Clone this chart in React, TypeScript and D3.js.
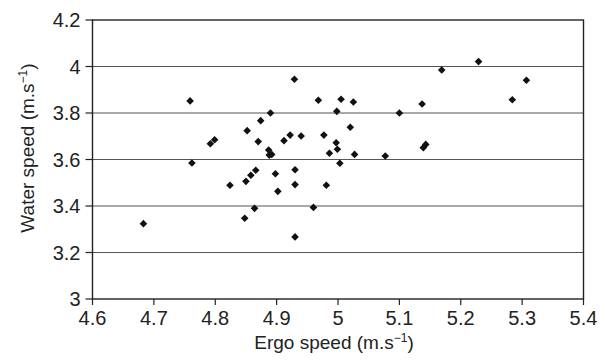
import React from "react";
import * as d3 from "d3";

const ergoSpeed = [
  4.683, 4.759, 4.762, 4.792, 4.799, 4.824, 4.848, 4.850, 4.852, 4.858,
  4.864, 4.866, 4.870, 4.874, 4.887, 4.888, 4.892, 4.890, 4.898, 4.902,
  4.912, 4.922, 4.929, 4.930, 4.930, 4.930, 4.940, 4.960, 4.968, 4.977,
  4.981, 4.986, 4.997, 4.999, 4.998, 5.003, 5.005, 5.020, 5.025, 5.027,
  5.077, 5.100, 5.137, 5.139, 5.143, 5.169, 5.229, 5.284, 5.307,
];
const waterSpeed = [
  3.324, 3.852, 3.585, 3.668, 3.685, 3.489, 3.347, 3.506, 3.724, 3.532,
  3.390, 3.554, 3.677, 3.767, 3.641, 3.619, 3.622, 3.800, 3.539, 3.463,
  3.681, 3.705, 3.945, 3.556, 3.492, 3.267, 3.701, 3.394, 3.855, 3.705,
  3.489, 3.627, 3.672, 3.644, 3.807, 3.584, 3.859, 3.739, 3.847, 3.622,
  3.615, 3.800, 3.839, 3.651, 3.665, 3.985, 4.021, 3.857, 3.941,
];
const xTicks = [4.6, 4.7, 4.8, 4.9, 5.0, 5.1, 5.2, 5.3, 5.4];
const yTicks = [3.0, 3.2, 3.4, 3.6, 3.8, 4.0, 4.2];

const W = 608;
const H = 362;
const left = 92.5;
const right = 583.5;
const top = 20;
const bottom = 299;
const font = "'Liberation Sans', Arial, sans-serif";
const ink = "#222";

export default function App() {
  const x = d3.scaleLinear().domain([4.6, 5.4]).range([left, right]);
  const y = d3.scaleLinear().domain([3.0, 4.2]).range([bottom, top]);
  const r = 3.8;
  const diamond = `M0,${-r}L${r},0L0,${r}L${-r},0Z`;
  const fmt = (v: number) => String(+v.toFixed(1));

  return (
    <svg width={W} height={H} style={{ position: "absolute", left: 0, top: 0 }}>
      <rect width={W} height={H} fill="#fff" />
      {yTicks.slice(1, -1).map((t) => (
        <line key={t} x1={left} x2={right} y1={y(t)} y2={y(t)} stroke="#555" strokeWidth={1.2} />
      ))}
      <rect x={left} y={top} width={right - left} height={bottom - top} fill="none" stroke={ink} strokeWidth={1.4} />
      {yTicks.map((t) => (
        <g key={t}>
          <line x1={left - 7} x2={left} y1={y(t)} y2={y(t)} stroke={ink} strokeWidth={1.2} />
          <text x={left - 12} y={y(t)} dy="0.36em" textAnchor="end" fontSize={20} fontFamily={font} fill={ink}>
            {fmt(t)}
          </text>
        </g>
      ))}
      {xTicks.map((t) => (
        <g key={t}>
          <line x1={x(t)} x2={x(t)} y1={bottom} y2={bottom + 6} stroke={ink} strokeWidth={1.2} />
          <text x={x(t)} y={325} textAnchor="middle" fontSize={20} fontFamily={font} fill={ink}>
            {fmt(t)}
          </text>
        </g>
      ))}
      {ergoSpeed.map((v, i) => (
        <path key={i} d={diamond} transform={`translate(${x(v)},${y(waterSpeed[i])})`} fill="#111" />
      ))}
      <text x={334} y={349} textAnchor="middle" fontSize={19} fontFamily={font} fill={ink}>
        Ergo speed (m.s
        <tspan dy={-7} fontSize={12}>−1</tspan>
        <tspan dy={7}>)</tspan>
      </text>
      <text
        transform={`translate(${34},${148}) rotate(-90)`}
        textAnchor="middle"
        fontSize={19}
        fontFamily={font}
        fill={ink}
      >
        Water speed (m.s
        <tspan dy={-7} fontSize={12}>−1</tspan>
        <tspan dy={7}>)</tspan>
      </text>
    </svg>
  );
}
